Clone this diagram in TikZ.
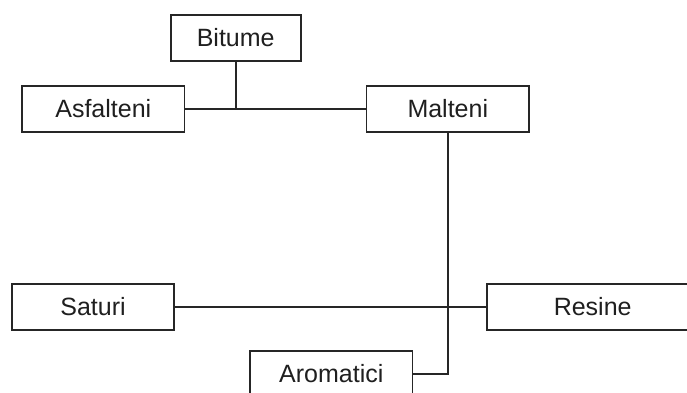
\documentclass[tikz,border=0pt]{standalone}
\usepackage{fontspec}
\setmainfont{Liberation Sans}
\begin{document}
\begin{tikzpicture}[x=1pt,y=-1pt,
  box/.style={draw=black!85, line width=1.6pt, fill=white, inner sep=0pt,
    minimum height=46pt, text=black!88, font=\fontsize{25}{30}\selectfont},
  link/.style={draw=black!85, line width=1.6pt}]
\useasboundingbox (0,0) rectangle (687,392);
\clip (0,0) rectangle (687,392);
% tree of bitumen fractions
\node[box, minimum width=130pt] (bit) at (235.7,38) {Bitume};
\node[box, minimum width=162.5pt] (asf) at (103.3,108.7) {Asfalteni};
\node[box, minimum width=162.5pt] (mal) at (447.8,108.7) {Malteni};
\node[box, minimum width=162pt] (sat) at (93,307) {Saturi};
\node[box, minimum width=212pt] (res) at (592.7,307) {Resine};
\node[box, minimum width=162.5pt] (aro) at (331.3,373.7) {Aromatici};
% connectors
\draw[link] (bit.south) -- (bit.south |- asf.east);
\draw[link] (asf.east) -- (mal.west);
\draw[link] (sat.east) -- (res.west);
\draw[link] (mal.south) -- (mal.south |- aro.east) -- (aro.east);
\end{tikzpicture}
\end{document}
